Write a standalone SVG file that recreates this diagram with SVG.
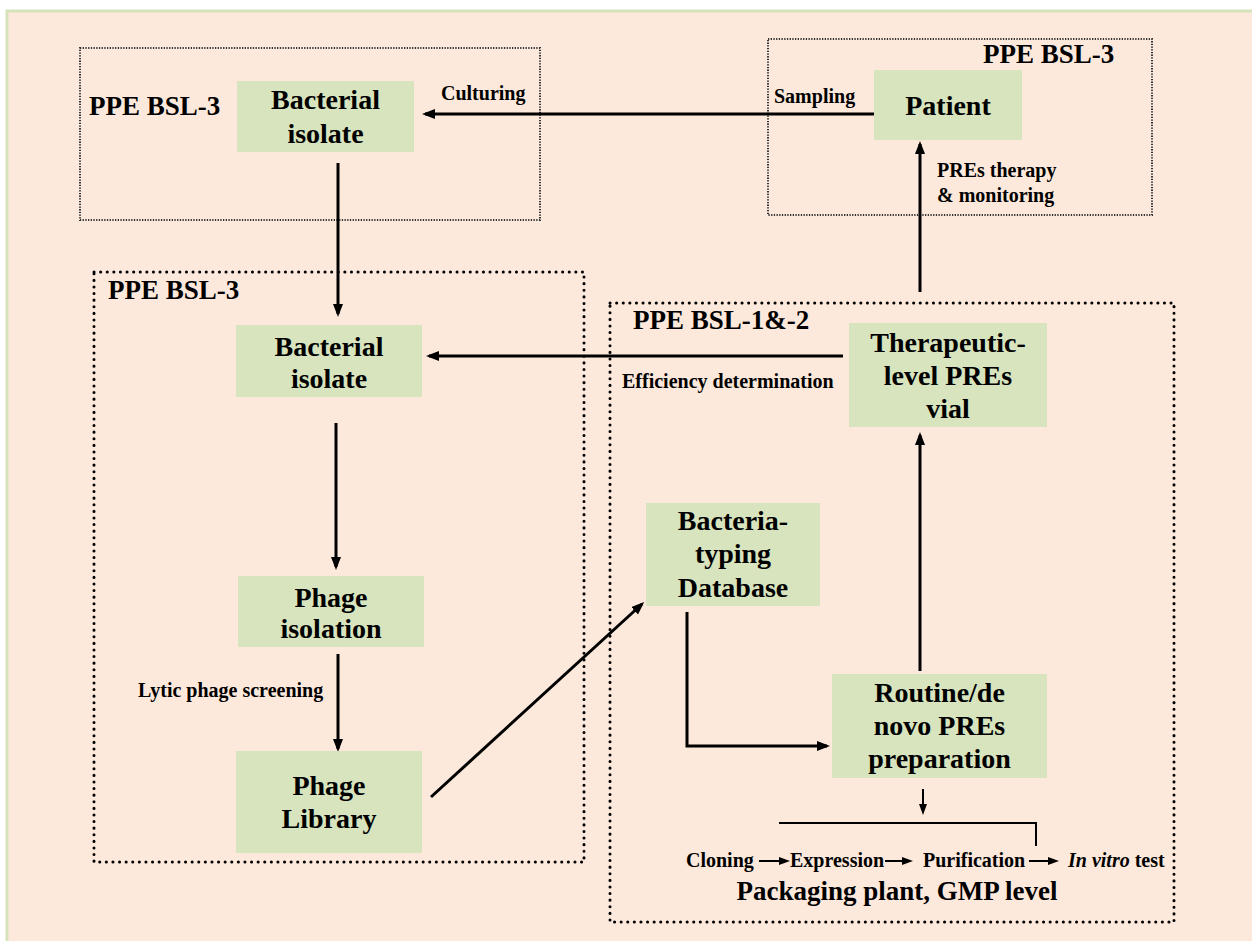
<svg xmlns="http://www.w3.org/2000/svg" width="1252" height="941" viewBox="0 0 1252 941">
<style>
  .node rect { fill: #D7E4BD; }
  .nt { font-family: "Liberation Serif", "Times New Roman", serif; font-weight: bold; font-size: 28px; fill: #000; text-anchor: middle; }
  .zl { font-family: "Liberation Serif", "Times New Roman", serif; font-weight: bold; font-size: 27px; fill: #000; }
  .lb { font-family: "Liberation Serif", "Times New Roman", serif; font-weight: bold; font-size: 20px; fill: #000; }
  .zone-fine { fill: none; stroke: #333; stroke-width: 2; stroke-dasharray: 1.3 1.4; }
  .zone-bold { fill: none; stroke: #000; stroke-width: 3; stroke-dasharray: 0.1 6.5; stroke-linecap: round; }
  .conn { fill: none; stroke: #000; stroke-width: 3; }
  .conn-thin { fill: none; stroke: #000; stroke-width: 2; }
</style>
<defs>
  <marker id="ah" markerUnits="userSpaceOnUse" markerWidth="14" markerHeight="12" refX="10" refY="5" orient="auto">
    <path d="M0,0 L13,5 L0,10 z" fill="#000"/>
  </marker>
  <marker id="ahs" markerUnits="userSpaceOnUse" markerWidth="12" markerHeight="10" refX="8" refY="4" orient="auto">
    <path d="M0,0 L11,4 L0,8 z" fill="#000"/>
  </marker>
</defs>
<rect x="0" y="0" width="1252" height="941" fill="#FFFFFF"/>
<rect x="7" y="11" width="1260" height="940" fill="#FDE9DB" stroke="#D5E3BC" stroke-width="3"/>

<g id="zones">
  <rect class="zone-fine" x="80" y="48" width="460" height="172"/>
  <text class="zl" x="89" y="115">PPE BSL-3</text>
  <rect class="zone-fine" x="768" y="39" width="384" height="176"/>
  <text class="zl" x="983" y="63">PPE BSL-3</text>
  <rect class="zone-bold" x="94" y="272" width="490" height="590"/>
  <text class="zl" x="108" y="299">PPE BSL-3</text>
  <rect class="zone-bold" x="610" y="303" width="564" height="619"/>
  <text class="zl" x="633" y="329">PPE BSL-1&amp;-2</text>
</g>

<g id="connectors">
  <line class="conn" x1="874" y1="114" x2="425" y2="114" marker-end="url(#ah)"/>
  <line class="conn" x1="338" y1="163" x2="338" y2="314" marker-end="url(#ah)"/>
  <line class="conn" x1="336" y1="423" x2="336" y2="567" marker-end="url(#ah)"/>
  <line class="conn" x1="338" y1="654" x2="338" y2="749" marker-end="url(#ah)"/>
  <line class="conn" x1="431" y1="797" x2="642" y2="604" marker-end="url(#ah)"/>
  <path class="conn" d="M687,612 V746 H827" marker-end="url(#ah)"/>
  <line class="conn" x1="920" y1="671" x2="920" y2="435" marker-end="url(#ah)"/>
  <line class="conn" x1="843" y1="356" x2="429" y2="356" marker-end="url(#ah)"/>
  <line class="conn" x1="920" y1="292" x2="920" y2="144" marker-end="url(#ah)"/>
  <line class="conn-thin" x1="923" y1="789" x2="923" y2="812" marker-end="url(#ahs)"/>
  <path class="conn-thin" d="M779,823 H1036 V846"/>
  <line class="conn-thin" x1="759" y1="861" x2="787" y2="861" marker-end="url(#ahs)"/>
  <line class="conn-thin" x1="885" y1="861" x2="910" y2="861" marker-end="url(#ahs)"/>
  <line class="conn-thin" x1="1029" y1="861" x2="1056" y2="861" marker-end="url(#ahs)"/>
</g>

<g id="labels">
  <text class="lb" x="441" y="100" font-size="19">Culturing</text>
  <text class="lb" x="774" y="103">Sampling</text>
  <text class="lb" x="937" y="177">PREs therapy</text>
  <text class="lb" x="937" y="202">&amp; monitoring</text>
  <text class="lb" x="622" y="388">Efficiency determination</text>
  <text class="lb" x="138" y="697">Lytic phage screening</text>
</g>

<g id="node-bacterial-isolate-1" class="node">
  <rect x="237" y="81" width="177" height="71"/>
  <text class="nt" x="325.5" y="109">Bacterial</text>
  <text class="nt" x="325.5" y="143">isolate</text>
</g>
<g id="node-patient" class="node">
  <rect x="874" y="70" width="148" height="70"/>
  <text class="nt" x="948" y="115">Patient</text>
</g>
<g id="node-bacterial-isolate-2" class="node">
  <rect x="236" y="325" width="186" height="72"/>
  <text class="nt" x="329" y="356">Bacterial</text>
  <text class="nt" x="329" y="388">isolate</text>
</g>
<g id="node-phage-isolation" class="node">
  <rect x="238" y="576" width="186" height="71"/>
  <text class="nt" x="331" y="607">Phage</text>
  <text class="nt" x="331" y="638">isolation</text>
</g>
<g id="node-phage-library" class="node">
  <rect x="236" y="751" width="186" height="102"/>
  <text class="nt" x="329" y="795">Phage</text>
  <text class="nt" x="329" y="828">Library</text>
</g>
<g id="node-therapeutic" class="node">
  <rect x="849" y="323" width="198" height="104"/>
  <text class="nt" x="948" y="352">Therapeutic-</text>
  <text class="nt" x="948" y="385">level PREs</text>
  <text class="nt" x="948" y="418">vial</text>
</g>
<g id="node-database" class="node">
  <rect x="646" y="503" width="174" height="103"/>
  <text class="nt" x="733" y="530">Bacteria-</text>
  <text class="nt" x="733" y="563">typing</text>
  <text class="nt" x="733" y="597">Database</text>
</g>
<g id="node-routine" class="node">
  <rect x="832" y="674" width="215" height="104"/>
  <text class="nt" x="939.5" y="702">Routine/de</text>
  <text class="nt" x="939.5" y="735">novo PREs</text>
  <text class="nt" x="939.5" y="768">preparation</text>
</g>

<g id="packaging">
  <text class="lb" x="686" y="867">Cloning</text>
  <text class="lb" x="790" y="867">Expression</text>
  <text class="lb" x="923" y="867">Purification</text>
  <text class="lb" x="1068" y="867"><tspan font-style="italic">In vitro</tspan> test</text>
  <text class="zl" x="897" y="900" font-size="27.5" text-anchor="middle">Packaging plant, GMP level</text>
</g>
</svg>
